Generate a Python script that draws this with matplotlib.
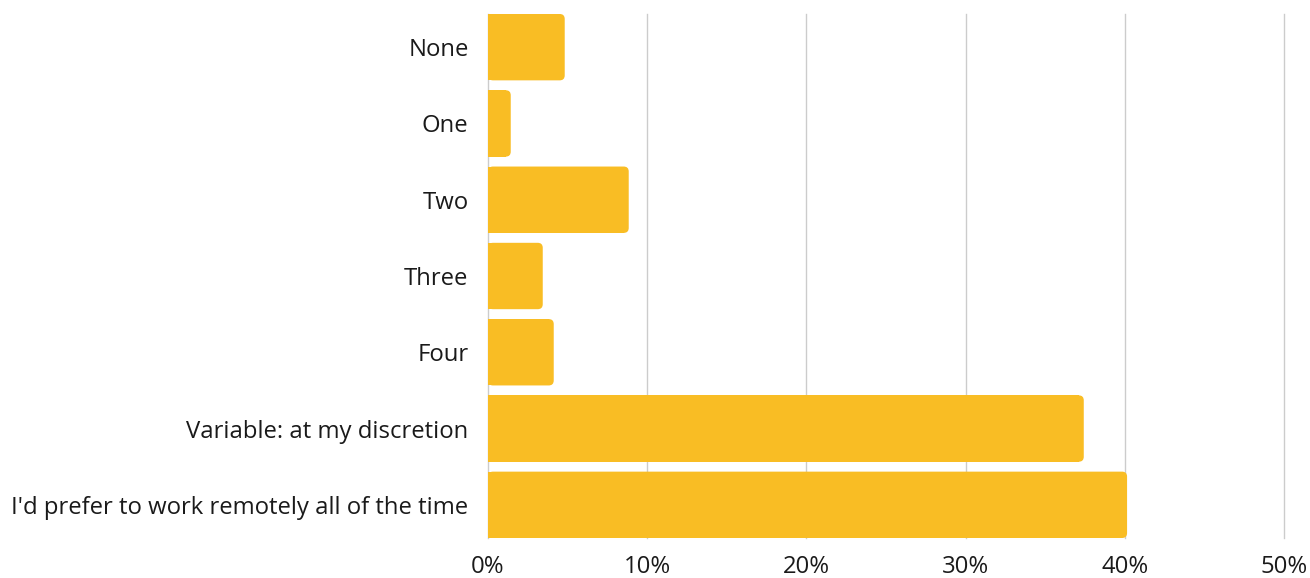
import matplotlib
matplotlib.use("Agg")
import matplotlib.pyplot as plt
from matplotlib.patches import FancyBboxPatch
from matplotlib.ticker import FuncFormatter

plt.rcParams['font.family'] = ['Open Sans', 'DejaVu Sans']

categories = ["None", "One", "Two", "Three", "Four",
              "Variable: at my discretion",
              "I'd prefer to work remotely all of the time"]
values = [4.82, 1.43, 8.84, 3.44, 4.13, 37.42, 40.14]
xticks = [0, 10, 20, 30, 40, 50]

color = "#F9BD24"
h = 0.87
radius_px = 5

fig = plt.figure(figsize=(13.1, 5.78), dpi=100)
ax = fig.add_axes([0.3725, 0.0692, 0.6077, 0.9066])

ypos = list(range(len(categories)))
ax.set_xlim(0, 50)
ax.set_ylim(len(categories) - 1 + h / 2, -h / 2)

# size of one pixel in data units
bbox = ax.get_window_extent()
xpp = 50 / bbox.width
ypp = (len(categories) - 1 + h) / bbox.height
r = radius_px * xpp

bars = ax.barh(ypos, [max(v - r, 0) for v in values], height=h,
               color=color, linewidth=0, zorder=3)
for b, v in zip(bars, values):
    p = FancyBboxPatch((b.get_x(), b.get_y()), v, b.get_height(),
                       boxstyle="round,pad=0,rounding_size=%f" % r,
                       mutation_aspect=ypp / xpp,
                       facecolor=color, edgecolor="none", zorder=3)
    ax.add_patch(p)

ax.set_xticks(xticks)
ax.xaxis.set_major_formatter(FuncFormatter(lambda x, _: "%d%%" % x))
ax.set_yticks(ypos)
ax.set_yticklabels(categories)
ax.grid(axis="x", color="#cccccc", linewidth=1.0, zorder=0)
for gl in ax.get_xgridlines():
    gl.set_clip_on(False)
ax.tick_params(axis="both", length=0, labelsize=17.2, colors="#1a1a1a")
ax.tick_params(axis="y", pad=14)
ax.tick_params(axis="x", pad=12)
for s in ax.spines.values():
    s.set_visible(False)

fig.savefig("out.png", dpi=100)
